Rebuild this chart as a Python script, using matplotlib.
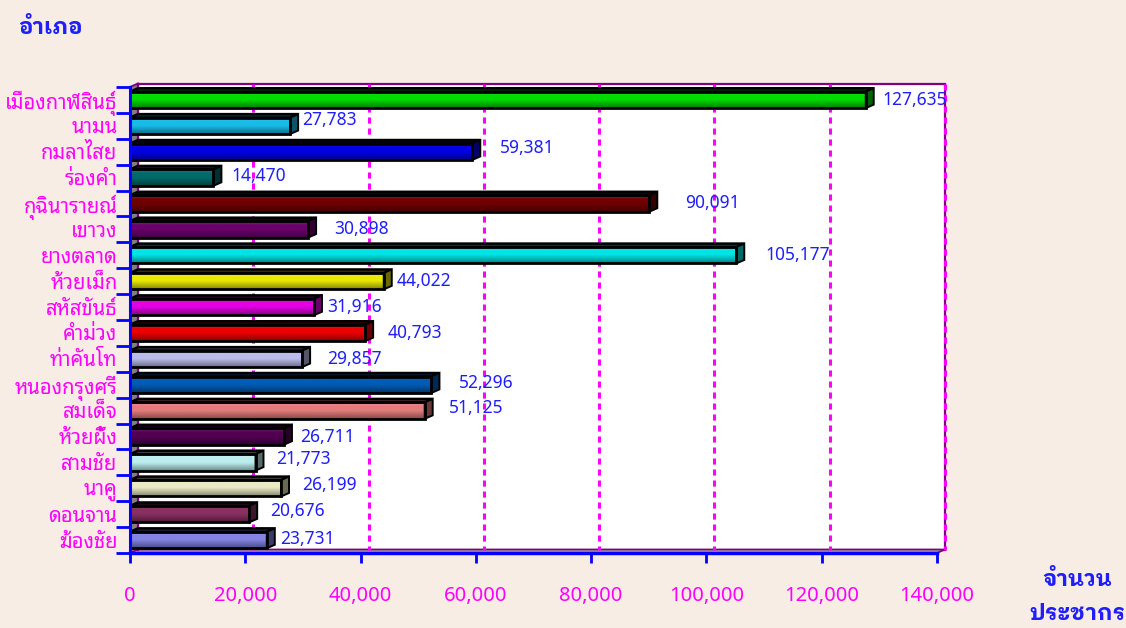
import matplotlib
matplotlib.use("Agg")
import matplotlib.pyplot as plt
import numpy as np
from matplotlib.patches import Polygon, Rectangle
from matplotlib.colors import to_rgb

plt.rcParams['font.family'] = ['Noto Sans Thai Looped', 'DejaVu Sans']
TITLE_FONT = ['IBM Plex Sans Thai Looped', 'Noto Sans Thai Looped', 'DejaVu Sans']

# ---------------- data ----------------
districts = ["เมืองกาฬสินธุ์", "นามน", "กมลาไสย", "ร่องคำ", "กุฉินารายณ์", "เขาวง",
             "ยางตลาด", "ห้วยเม็ก", "สหัสขันธ์", "คำม่วง", "ท่าคันโท", "หนองกรุงศรี",
             "สมเด็จ", "ห้วยผึ้ง", "สามชัย", "นาคู", "ดอนจาน", "ฆ้องชัย"]
population = [127635, 27783, 59381, 14470, 90091, 30898,
              105177, 44022, 31916, 40793, 29857, 52296,
              51125, 26711, 21773, 26199, 20676, 23731]
bar_colors = ['#00DC00', '#18BCE8', '#0000E6', '#006A6A', '#700000', '#6A006A',
              '#00E4E4', '#EAEA00', '#E400E4', '#EE0000', '#BCBCEC', '#005CB4',
              '#E47C7C', '#520052', '#BCEEEE', '#EAEAC4', '#8A3062', '#8484E4']
x_ticks = [0, 20000, 40000, 60000, 80000, 100000, 120000, 140000]
y_title = "อำเภอ"
x_title_lines = ["จำนวน", "ประชากร"]
# label offsets (pixels right of bar end, pixels down)
label_dx = [9, 4, 20, 10, 28, 18, 21, 5, 5, 14, 17, 19, 16, 8, 13, 13, 13, 5]
label_dy = [0, -6, -4, -2, 0, 0, 0, 0, 0, 0, 0, -2, -3, 1, -3, -3, -3, -1]

# ---------------- layout ----------------
W, H = 1126, 628
BG = '#F7EDE5'
MAGENTA = '#FF00FF'
BLUE = '#1E1EFF'
fig = plt.figure(figsize=(W / 100, H / 100), dpi=100, facecolor=BG)
ax_l, ax_r, ax_t, ax_b = 130, 937, 87, 553
ax = fig.add_axes([ax_l / W, 1 - ax_b / H, (ax_r - ax_l) / W, (ax_b - ax_t) / H])
ax.set_facecolor('none')

n = len(districts)
xmax = x_ticks[-1]
px_x = xmax / (ax_r - ax_l)          # data per pixel (x)
px_y = n / (ax_b - ax_t)             # categories per pixel (y)
ddx = 8 * px_x                       # depth to the right
ddy = -3.5 * px_y                    # depth upward (axis inverted)
y0, y1 = -0.5, n - 0.5

# back wall
ax.add_patch(Rectangle((ddx, y0 + ddy), xmax, n, facecolor='white',
                       edgecolor='#800080', lw=1.6, zorder=1, clip_on=False))
# left wall
ax.add_patch(Polygon([(0, y0), (ddx, y0 + ddy), (ddx, y1 + ddy), (0, y1)],
                     closed=True, facecolor='#808080', edgecolor='none', zorder=1.2, clip_on=False))
# floor
ax.add_patch(Polygon([(0, y1), (xmax, y1), (xmax + ddx, y1 + ddy), (ddx, y1 + ddy)],
                     closed=True, facecolor='#A0A0A0', edgecolor='#800080', lw=1.2,
                     zorder=1.3, clip_on=False))
ax.plot([ddx, ddx], [y0 + ddy, y1 + ddy], color='#800080', lw=1.6, zorder=1.4, clip_on=False)
ax.plot([0, ddx], [y0, y0 + ddy], color='#800080', lw=1.4, zorder=1.4, clip_on=False)

# gridlines on back wall
for t in x_ticks[1:]:
    ax.plot([t + ddx, t + ddx], [y0 + ddy, y1 + ddy], color=MAGENTA, lw=2.2,
            dashes=(2.0, 1.6), zorder=1.5, clip_on=False)


def shade(c, f):
    r = np.array(to_rgb(c))
    return tuple(np.clip(r * f, 0, 1))


def mix(c, m, f):
    a = np.array(to_rgb(c)); b = np.array(to_rgb(m))
    return tuple(a * (1 - f) + b * f)


h = 8.2 * px_y
for i, (v, c) in enumerate(zip(population, bar_colors)):
    top, bot = i - h, i + h
    # gradient front face
    N = 40
    t = np.linspace(0, 1, N)
    light = np.array(mix(c, 'white', 0.15))
    base = np.array(to_rgb(c))
    dark = np.array(shade(c, 0.58))
    rows = []
    for tt in t:
        if tt < 0.25:
            col = light + (base - light) * (tt / 0.25)
        elif tt < 0.5:
            col = base
        else:
            col = base + (dark - base) * ((tt - 0.5) / 0.5)
        rows.append(col)
    img = np.array(rows)[:, None, :]
    ax.imshow(img, extent=[0, v, bot, top], origin='upper', aspect='auto',
              interpolation='bilinear', zorder=3)
    ax.add_patch(Rectangle((0, top), v, 2 * h, facecolor='none', edgecolor='black',
                           lw=2.0, zorder=3.2))
    # top face
    ax.add_patch(Polygon([(0, top), (ddx, top + ddy), (v + ddx, top + ddy), (v, top)],
                         closed=True, facecolor=shade(c, 0.3), edgecolor='black', lw=1.8,
                         zorder=3.1))
    # side face
    ax.add_patch(Polygon([(v, top), (v + ddx, top + ddy), (v + ddx, bot + ddy), (v, bot)],
                         closed=True, facecolor=shade(c, 0.45), edgecolor='black', lw=1.4,
                         zorder=3.1))
    ax.text(v + ddx + label_dx[i] * px_x, i + label_dy[i] * px_y, f"{v:,}",
            color=BLUE, fontsize=12.5, ha='left', va='center', zorder=6, clip_on=False)

ax.set_xlim(0, xmax)
ax.set_ylim(y1, y0)

# axes styling
for s in ['top', 'right']:
    ax.spines[s].set_visible(False)
ax.spines['left'].set_color('#0000FF')
ax.spines['left'].set_linewidth(2.2)
ax.spines['bottom'].set_color('#0000FF')
ax.spines['bottom'].set_linewidth(2.5)
for s in ['left', 'bottom']:
    ax.spines[s].set_zorder(8)

ax.set_xticks(x_ticks)
ax.set_xticklabels([f"{t:,}" for t in x_ticks])
ax.tick_params(axis='x', colors='#0000FF', length=7, width=2, direction='out', pad=17,
               labelcolor=MAGENTA, labelsize=14.5)
ax.set_yticks(range(n))
ax.set_yticklabels(districts)
ax.tick_params(axis='y', which='major', length=0, pad=9, labelcolor=MAGENTA, labelsize=14.5)
ax.set_yticks(np.arange(-0.5, n, 1.0), minor=True)
ax.tick_params(axis='y', which='minor', colors='#0000FF', length=10, width=2, direction='out')

fig.text(18 / W, 1 - 28 / H, y_title, color=BLUE, fontsize=16, fontweight='bold',
         family=TITLE_FONT, ha='left', va='center')
fig.text(1077 / W, 1 - 580 / H, x_title_lines[0], color=BLUE, fontsize=16, fontweight='bold',
         family=TITLE_FONT, ha='center', va='center')
fig.text(1077 / W, 1 - 614 / H, x_title_lines[1], color=BLUE, fontsize=16, fontweight='bold',
         family=TITLE_FONT, ha='center', va='center')

fig.savefig("out.png", dpi=100, facecolor=BG)
